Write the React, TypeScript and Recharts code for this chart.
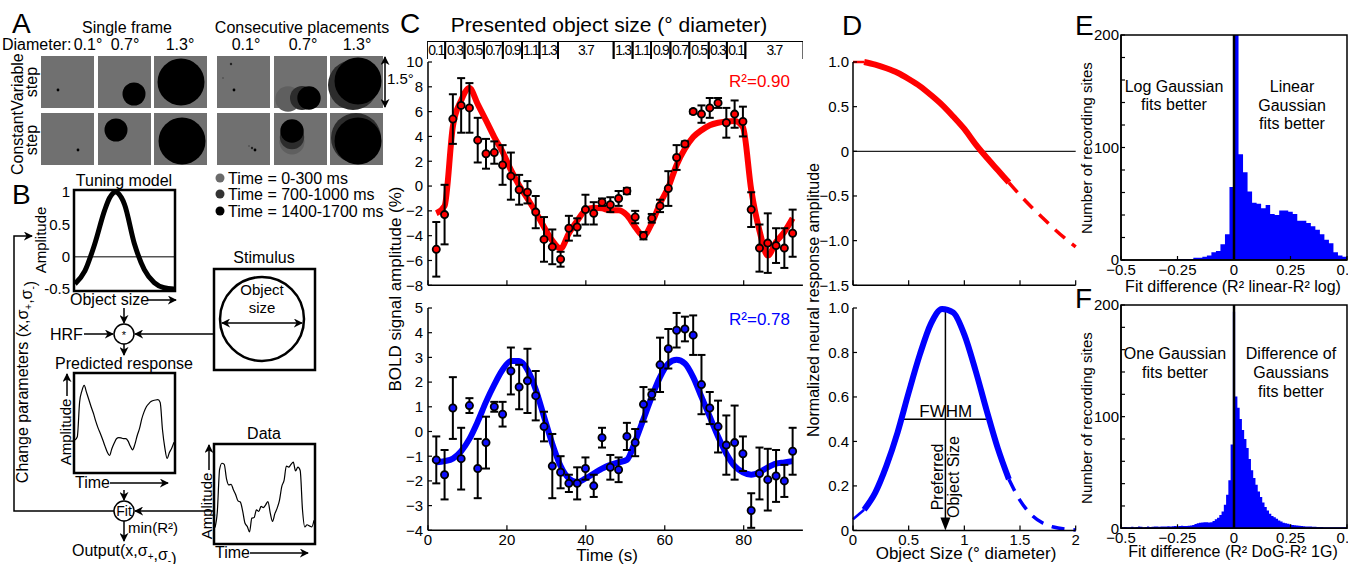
import React from 'react';
import {
  ComposedChart, LineChart, BarChart, Bar, Line, Scatter, ErrorBar, Area, XAxis, YAxis,
  ReferenceLine, ReferenceArea, ReferenceDot,
} from 'recharts';

const FONT = '"Liberation Sans", Arial, Helvetica, sans-serif';

// C: BOLD time courses, one sample per TR (2.1 s)
const times = [2.1, 4.2, 6.3, 8.4, 10.5, 12.6, 14.7, 16.8, 18.9, 21.0, 23.1, 25.2, 27.3, 29.4, 31.5, 33.6, 35.7, 37.8, 39.9, 42.0, 44.1, 46.2, 48.3, 50.4, 52.5, 54.6, 56.7, 58.8, 60.9, 63.0, 65.1, 67.2, 69.3, 71.4, 73.5, 75.6, 77.7, 79.8, 81.9, 84.0, 86.1, 88.2, 90.3, 92.4];
const redMean = [-5.1, -2.3, 5.4, 6.5, 6.3, 3.7, 2.6, 2.7, 1.7, 0.8, -0.3, -0.5, -2.1, -4.3, -4.9, -5.9, -3.4, -3.3, -1.9, -2.2, -1.3, -1.5, -1.0, -0.4, -2.5, -4.0, -2.6, -1.6, -0.2, 2.3, 3.4, 6.0, 5.8, 6.3, 6.7, 5.1, 5.8, 5.2, -1.9, -5.0, -4.6, -4.8, -5.0, -3.8];
const redErr = [2.2, 2.4, 2.0, 2.2, 2.0, 1.8, 1.2, 0.9, 1.6, 1.9, 1.2, 0.9, 1.3, 1.8, 1.4, 0.6, 1.0, 0.7, 1.2, 0.9, 0.3, 0.6, 0.6, 0.25, 0.5, 0.3, 0.35, 0.5, 1.4, 1.0, 0.2, 0.15, 0.7, 0.8, 0.4, 1.2, 1.1, 1.2, 1.4, 1.9, 2.4, 1.4, 1.6, 1.9];
const redFit = [-2.2, -1.6, 4.8, 6.9, 7.9, 6.6, 5.3, 3.95, 2.75, 1.3, 0.05, -1.0, -2.1, -3.3, -4.4, -5.05, -3.8, -2.8, -1.95, -1.75, -1.8, -1.95, -1.95, -2.35, -3.3, -4.0, -3.0, -1.4, -0.1, 1.7, 3.0, 3.95, 4.5, 4.9, 5.1, 5.2, 5.25, 4.75, -0.3, -3.6, -5.6, -4.5, -3.7, -2.6];
const blueMean = [-1.15, -1.75, 0.95, -1.1, 1.05, -1.5, -0.45, 1.0, 0.7, 2.45, 1.8, 2.05, 1.45, 0.2, -1.4, -1.65, -2.1, -2.1, -1.5, -2.2, -0.25, -1.45, -1.55, -0.2, -0.45, 1.1, 1.5, 2.7, 3.35, 4.1, 4.15, 3.9, 1.9, 0.95, 0.2, -0.55, -0.45, -0.9, -3.2, -1.7, -1.95, -1.8, -2.0, -0.8];
const blueErr = [0.95, 1.0, 1.25, 1.25, 0.3, 1.2, 1.05, 0.2, 0.5, 0.95, 0.9, 1.3, 1.0, 0.6, 1.3, 0.65, 0.35, 0.65, 0.45, 0.45, 0.4, 0.5, 0.5, 0.55, 0.55, 0.7, 0.2, 1.1, 0.8, 0.7, 0.5, 0.8, 1.2, 0.65, 1.05, 1.2, 1.5, 0.7, 0.7, 1.05, 1.25, 1.05, 0.65, 0.95];
const blueFit = [-1.25, -1.2, -1.1, -0.8, -0.3, 0.4, 1.2, 1.9, 2.5, 2.85, 2.85, 2.5, 1.7, 0.6, -0.5, -1.4, -1.9, -2.05, -1.9, -1.7, -1.5, -1.35, -1.25, -1.15, -0.4, 0.5, 1.4, 2.2, 2.75, 2.9, 2.75, 2.2, 1.4, 0.6, -0.2, -0.9, -1.4, -1.65, -1.75, -1.65, -1.45, -1.3, -1.25, -1.2];

// C: presented object size per block (block edges in s)
const blockEdges = [-0.4, 4.2, 9.1, 14, 18.8, 23.7, 28.1, 32.8, 46.9, 51.7, 56.4, 61.3, 66.1, 71, 75.6, 80.3, 95];
const blockSizes = ['0.1', '0.3', '0.5', '0.7', '0.9', '1.1', '1.3', '3.7', '1.3', '1.1', '0.9', '0.7', '0.5', '0.3', '0.1', '3.7'];

// D: fitted tuning functions
const sizeGrid = [0, 0.1, 0.2, 0.3, 0.4, 0.5, 0.6, 0.7, 0.8, 0.9, 1.0, 1.1, 1.2, 1.3, 1.4, 1.5, 1.6, 1.7, 1.8, 1.9, 2.0];
const redTuning = [1.0, 1.0, 0.97, 0.93, 0.88, 0.81, 0.73, 0.63, 0.52, 0.39, 0.25, 0.08, -0.07, -0.21, -0.35, -0.49, -0.62, -0.74, -0.86, -0.97, -1.07];
const blueTuning = [0.05, 0.093, 0.17, 0.29, 0.44, 0.62, 0.79, 0.93, 0.996, 0.98, 0.88, 0.72, 0.54, 0.37, 0.23, 0.135, 0.071, 0.034, 0.015, 0.006, 0.002];
const testedMin = 0.1;
const testedMax = 1.4;
const prefSize = 0.83;
const fwhmLo = 0.43;
const fwhmHi = 1.23;

// E, F: histograms of fit differences
const eStart = -0.5;
const eWidth = 0.02;
const eCounts = [0, 0, 0, 0, 0, 0, 0, 0, 0, 0, 0, 0, 1, 1, 1, 1, 2, 2, 3, 4, 7, 8, 14, 23, 65, 230, 94, 78, 61, 51, 50, 46, 49, 41, 40, 44, 44, 43, 41, 35, 35, 33, 30, 27, 23, 18, 15, 7, 4, 3];
const fStart = -0.505;
const fWidth = 0.01;
const fCounts = [
  1, 1, 1.2, 1, 1, 1.3, 1, 1.2, 1.5, 1.3, 1, 1.2, 1.5, 1.2, 1.3, 1.5, 1.5, 1.3, 1.5, 1.5,
  1.5, 1.8, 1.5, 1.8, 2, 1.8, 2, 2.2, 2, 2,
  2.2, 2.5, 3, 3.8, 4.5, 5, 5.3, 5.5, 5.5, 5.3,
  5.5, 6.5, 8, 9.5, 12, 15, 21, 30, 43, 75,
  194,
  118, 108, 98, 88, 80, 72, 62, 52, 45, 39,
  33, 28, 23, 19, 16, 13, 11, 10, 8.5, 7,
  6, 5, 4.5, 4, 3.5, 3, 2.8, 2.5, 2.2, 2,
  1.8, 1.6, 1.5, 1.5, 1.3, 1.3, 1.2, 1.2, 1.2, 1, 1, 1, 1, 1, 1, 1, 1, 1, 1, 1,
];

// B: schematic tuning model
const tuneX = [0, 0.1, 0.2, 0.3, 0.35, 0.41, 0.47, 0.5, 0.6, 0.7, 0.8, 0.9, 1.0];
const tuneY = [-0.42, -0.22, 0.2, 0.72, 0.91, 1.0, 0.91, 0.81, 0.2, -0.2, -0.4, -0.48, -0.5];

const cRed = times.map((t, i) => ({ t, y: redMean[i], e: redErr[i], fit: redFit[i] }));
const cBlue = times.map((t, i) => ({ t, y: blueMean[i], e: blueErr[i], fit: blueFit[i] }));
// one stacked row: each block's duration
const blockRow = [Object.fromEntries(blockSizes.map((_, i) => [`b${i}`, blockEdges[i + 1] - blockEdges[i]]))];
const blockSpan = blockEdges[blockEdges.length - 1] - blockEdges[0];
const splitTuning = (vals: number[]) => sizeGrid.map((x, i) => ({
  x,
  thin: x <= testedMin ? vals[i] : null,
  solid: x >= testedMin && x <= testedMax ? vals[i] : null,
  dash: x >= testedMax ? vals[i] : null,
}));
const dRed = splitTuning(redTuning);
const dBlue = splitTuning(blueTuning);
const histRows = (start: number, w: number, counts: number[]) => [
  ...counts.map((n, i) => ({ x: start + i * w, n })),
  { x: start + counts.length * w, n: counts[counts.length - 1] },
];
const eRows = histRows(eStart, eWidth, eCounts);
const fRows = histRows(fStart, fWidth, fCounts);
const tuneRows = tuneX.map((x, i) => ({ x, y: tuneY[i] }));

type Rect = { x: number; y: number; w: number; h: number };
const frame = (r: Rect, l: number, rt: number, t: number, b: number) => ({
  style: { position: 'absolute' as const, left: r.x - l, top: r.y - t },
  width: r.w + l + rt,
  height: r.h + t + b,
  margin: { top: t, right: rt, bottom: 0, left: 0 },
  yw: l,
  xh: b,
});

const cTopR = { x: 428.3, y: 61.7, w: 374.9, h: 223.3 };
const cBotR = { x: 428.3, y: 307.7, w: 374.9, h: 222.3 };
const blockR = { x: 426.7, y: 40.7, w: 376.4, h: 18.6 };
const dTopR = { x: 853.3, y: 61.7, w: 222.7, h: 223.3 };
const dBotR = { x: 853.3, y: 308.3, w: 222.7, h: 222.4 };
const eR = { x: 1121, y: 35, w: 226, h: 225 };
const fR = { x: 1121, y: 305, w: 226, h: 223.3 };
const tuneR = { x: 75, y: 192, w: 99, h: 97 };
const predR = { x: 75, y: 374, w: 99, h: 98 };
const dataR = { x: 215, y: 445, w: 99, h: 98 };

const minus = (v: number, d = 0) => (v < 0 ? '\u2212' : '') + Math.abs(v).toFixed(d);

// inward tick marks with labels outside the axis
const inTick = (side: 'left' | 'bottom', gap: number, len: number, size: number, fmt: (v: number) => string) =>
  (props: any) => {
    const { x, y, payload } = props;
    const label = fmt(payload.value);
    if (side === 'left') {
      const ax = x + gap;
      return (
        <g>
          {len > 0 && <line x1={ax} y1={y} x2={ax + len} y2={y} stroke="#000" strokeWidth={1.2} />}
          <text x={x} y={y + size * 0.36} textAnchor="end" fontSize={size} fill="#000">{label}</text>
        </g>
      );
    }
    const ay = y - gap;
    return (
      <g>
        {len > 0 && <line x1={x} y1={ay} x2={x} y2={ay - len} stroke="#000" strokeWidth={1.2} />}
        <text x={x} y={y + size * 0.72} textAnchor="middle" fontSize={size} fill="#000">{label}</text>
      </g>
    );
  };

const axisLine = { stroke: '#000', strokeWidth: 1.5 };

const Txt = ({ x, y, s = 16, a = 'start', r = false, fill = '#000', children }: any) => (
  <text x={x} y={y} fontSize={s} textAnchor={a} fill={fill} transform={r ? `rotate(-90 ${x} ${y})` : undefined}>
    {children}
  </text>
);

const Sub = ({ c }: { c: string }) => (
  <>
    <tspan fontSize={10} dy={4}>{c}</tspan>
    <tspan dy={-4}>{''}</tspan>
  </>
);

const redDot = (p: any) => <circle cx={p.cx} cy={p.cy} r={3.6} fill="#ff0000" stroke="#000" strokeWidth={1.8} />;
const blueDot = (p: any) => <circle cx={p.cx} cy={p.cy} r={3.6} fill="#1010ff" stroke="#000" strokeWidth={1.8} />;

function TimeCourse({ rect, rows, color, dot, yDomain, yTicks, showX }: any) {
  const f = frame(rect, 48, 8, 12, showX ? 22 : 10);
  return (
    <div style={f.style}>
      <ComposedChart width={f.width} height={f.height} margin={f.margin} data={rows}>
        <XAxis dataKey="t" type="number" domain={[0, 95]} ticks={[0, 20, 40, 60, 80]} interval={0} height={f.xh}
          axisLine={axisLine} tickLine={false} tickSize={0} tickMargin={4}
          tick={inTick('bottom', 4, 5, 15, (v) => (showX ? String(v) : ''))} />
        <YAxis type="number" domain={yDomain} ticks={yTicks} interval={0} width={f.yw}
          axisLine={axisLine} tickLine={false} tickSize={0} tickMargin={5}
          tick={inTick('left', 5, 4, 15, (v) => minus(v))} />
        <Line dataKey="fit" type="monotone" stroke={color} strokeWidth={6} dot={false} isAnimationActive={false} />
        <Scatter dataKey="y" shape={dot} isAnimationActive={false}>
          <ErrorBar dataKey="e" direction="y" width={4} stroke="#000" strokeWidth={2} />
        </Scatter>
      </ComposedChart>
    </div>
  );
}

function Tuning({ rect, rows, color, yDomain, yTicks, fmt, showX, children }: any) {
  const f = frame(rect, 40, 12, 12, showX ? 22 : 10);
  return (
    <div style={f.style}>
      <ComposedChart width={f.width} height={f.height} margin={f.margin} data={rows}>
        <XAxis dataKey="x" type="number" domain={[0, 2]} ticks={[0, 0.5, 1, 1.5, 2]} interval={0} height={f.xh}
          axisLine={axisLine} tickLine={false} tickSize={0} tickMargin={4}
          tick={inTick('bottom', 4, 5, 15, (v) => (showX ? String(v) : ''))} />
        <YAxis type="number" domain={yDomain} ticks={yTicks} interval={0} width={f.yw}
          axisLine={axisLine} tickLine={false} tickSize={0} tickMargin={4}
          tick={inTick('left', 4, 4, 15, fmt)} />
        {children}
        <Line dataKey="thin" type="monotone" stroke={color} strokeWidth={2.5} dot={false} isAnimationActive={false} />
        <Line dataKey="solid" type="monotone" stroke={color} strokeWidth={6} dot={false} isAnimationActive={false} />
        <Line dataKey="dash" type="monotone" stroke={color} strokeWidth={3.5} strokeDasharray="13 9" dot={false} isAnimationActive={false} />
      </ComposedChart>
    </div>
  );
}

function Histogram({ rect, rows }: any) {
  const f = frame(rect, 40, 12, 10, 22);
  return (
    <div style={f.style}>
      <ComposedChart width={f.width} height={f.height} margin={f.margin} data={rows}>
        <XAxis dataKey="x" type="number" domain={[-0.5, 0.5]} allowDataOverflow ticks={[-0.5, -0.25, 0, 0.25, 0.5]} interval={0}
          height={f.xh} axisLine={axisLine} tickLine={false} tickSize={0} tickMargin={4}
          tick={inTick('bottom', 4, 4, 15, (v) => minus(v, v === 0 ? 0 : Math.abs(v) === 0.5 ? 1 : 2))} />
        <YAxis type="number" domain={[0, 200]} allowDataOverflow ticks={[0, 20, 40, 60, 80, 100, 120, 140, 160, 180, 200]}
          interval={0} width={f.yw} axisLine={axisLine} tickLine={false} tickSize={0} tickMargin={2}
          tick={inTick('left', 2, 4, 15, (v) => (v % 100 === 0 ? String(v) : ''))} />
        <Area dataKey="n" type="stepAfter" fill="#0000ff" fillOpacity={1} stroke="none" isAnimationActive={false} />
        <ReferenceLine x={0} stroke="#000" strokeWidth={2.5} />
        <ReferenceArea x1={-0.5} x2={0.5} y1={0} y2={200} fill="none" stroke="#000" strokeWidth={1.5} />
      </ComposedChart>
    </div>
  );
}

function MiniTrace({ rect, rows, dataKey, xKey, yDomain, stroke, width, xDomain }: any) {
  const f = frame(rect, 0, 0, 0, 0);
  return (
    <div style={f.style}>
      <LineChart width={f.width} height={f.height} margin={{ top: 0, right: 0, bottom: 0, left: 0 }} data={rows}>
        <XAxis dataKey={xKey} type="number" domain={xDomain} hide />
        <YAxis type="number" domain={yDomain} hide />
        <Line dataKey={dataKey} type="monotone" stroke={stroke} strokeWidth={width} dot={false} isAnimationActive={false} />
      </LineChart>
    </div>
  );
}

const dBx = (v: number) => dBotR.x + (v / 2) * dBotR.w;
const dBy = (v: number) => dBotR.y + (1 - v) * dBotR.h;

export default function App() {
  const bf = frame(blockR, 0, 0, 0, 0);
  const tf = frame(tuneR, 36, 0, 12, 10);
  return (
    <div style={{ position: 'absolute', left: 0, top: 0, width: 1348, height: 564, overflow: 'hidden', background: '#fff', fontFamily: FONT }}>
      {/* C: object size blocks */}
      <div style={bf.style}>
        <BarChart layout="vertical" width={bf.width} height={bf.height} margin={bf.margin} data={blockRow}
          barCategoryGap={0} barGap={0}>
          <XAxis type="number" domain={[0, blockSpan]} allowDataOverflow hide />
          <YAxis type="category" hide />
          {blockSizes.map((s, i) => (
            <Bar key={i} dataKey={`b${i}`} stackId="blk" fill="#fff" fillOpacity={0} stroke="#000" strokeWidth={1.8}
              isAnimationActive={false}
              label={(p: any) => (
                <text x={p.x + p.width / 2} y={p.y + p.height / 2 + 5} textAnchor="middle" fontSize={14}
                  letterSpacing={-1.3} fill="#000">{s}</text>
              )} />
          ))}
        </BarChart>
      </div>

      <TimeCourse rect={cTopR} rows={cRed} color="#ff0000" dot={redDot} yDomain={[-8, 10]}
        yTicks={[-8, -6, -4, -2, 0, 2, 4, 6, 8, 10]} showX={false} />
      <TimeCourse rect={cBotR} rows={cBlue} color="#0000ff" dot={blueDot} yDomain={[-4, 5]}
        yTicks={[-4, -3, -2, -1, 0, 1, 2, 3, 4, 5]} showX />

      <Tuning rect={dTopR} rows={dRed} color="#ff0000" yDomain={[-1.5, 1]} yTicks={[-1.5, -1, -0.5, 0, 0.5, 1]}
        fmt={(v: number) => (v === 0 ? '0' : minus(v, 1))} showX={false}>
        <ReferenceLine y={0} stroke="#222" strokeWidth={1.2} />
      </Tuning>
      <Tuning rect={dBotR} rows={dBlue} color="#0000ff" yDomain={[0, 1]} yTicks={[0, 0.2, 0.4, 0.6, 0.8, 1]}
        fmt={(v: number) => (v === 0 ? '0' : v.toFixed(1))} showX>
        <ReferenceLine segment={[{ x: fwhmLo, y: 0.5 }, { x: fwhmHi, y: 0.5 }]} stroke="#000" strokeWidth={1.5} />
        <ReferenceLine segment={[{ x: fwhmLo, y: 0.48 }, { x: fwhmLo, y: 0.52 }]} stroke="#000" strokeWidth={1.5} />
        <ReferenceLine segment={[{ x: fwhmHi, y: 0.48 }, { x: fwhmHi, y: 0.52 }]} stroke="#000" strokeWidth={1.5} />
        <ReferenceLine segment={[{ x: prefSize, y: 1 }, { x: prefSize, y: 0.04 }]} stroke="#000" strokeWidth={1.5} />
        <ReferenceDot x={prefSize} y={0} r={0}
          shape={(p: any) => <path d={`M${p.cx - 5},${p.cy - 13} L${p.cx + 5},${p.cy - 13} L${p.cx},${p.cy} Z`} fill="#000" />} />
      </Tuning>

      <Histogram rect={eR} rows={eRows} />
      <Histogram rect={fR} rows={fRows} />

      {/* B: model curves */}
      <div style={tf.style}>
        <LineChart width={tf.width} height={tf.height} margin={{ ...tf.margin, bottom: 10 }} data={tuneRows}>
          <XAxis dataKey="x" type="number" domain={[0, 1]} hide />
          <YAxis type="number" domain={[-0.5, 1]} ticks={[-0.5, 0, 0.5, 1]} interval={0} width={tf.yw}
            axisLine={false} tickLine={false} tickSize={0} tickMargin={5}
            tick={inTick('left', 5, 0, 15, (v) => String(v))} />
          <ReferenceLine y={0} stroke="#555" strokeWidth={1.5} />
          <Line dataKey="y" type="monotone" stroke="#000" strokeWidth={5} dot={false} isAnimationActive={false} />
        </LineChart>
      </div>
      <MiniTrace rect={predR} rows={cRed} xKey="t" dataKey="fit" xDomain={['dataMin', 'dataMax']} yDomain={[-8.1, 10]} stroke="#000" width={1.2} />
      <MiniTrace rect={dataR} rows={cRed} xKey="t" dataKey="y" xDomain={['dataMin', 'dataMax']} yDomain={[-7.9, 9.8]} stroke="#000" width={1.2} />

      <svg width={1348} height={564} style={{ position: 'absolute', left: 0, top: 0, pointerEvents: 'none' }}>
        <defs>
          <marker id="ah" viewBox="0 0 10 10" refX="9" refY="5" markerWidth="9" markerHeight="9"
            markerUnits="userSpaceOnUse" orient="auto-start-reverse">
            <path d="M0,0 L10,5 L0,10 L3,5 Z" fill="#000" />
          </marker>
        </defs>

        {/* panel letters */}
        <Txt x={12} y={33} s={28}>A</Txt>
        <Txt x={12} y={204} s={28}>B</Txt>
        <Txt x={400} y={33} s={28}>C</Txt>
        <Txt x={842} y={35} s={28}>D</Txt>
        <Txt x={1075} y={35} s={28}>E</Txt>
        <Txt x={1075} y={308} s={28}>F</Txt>

        {/* A: stimulus frames */}
        <Txt x={127} y={33} a="middle">Single frame</Txt>
        <Txt x={302} y={33} a="middle">Consecutive placements</Txt>
        <Txt x={2} y={50}>Diameter:</Txt>
        <Txt x={88} y={50} a="middle">0.1°</Txt>
        <Txt x={125} y={50} a="middle">0.7°</Txt>
        <Txt x={180} y={50} a="middle">1.3°</Txt>
        <Txt x={246} y={50} a="middle">0.1°</Txt>
        <Txt x={303} y={50} a="middle">0.7°</Txt>
        <Txt x={357} y={50} a="middle">1.3°</Txt>
        <Txt x={23} y={82} r a="middle">Variable</Txt>
        <Txt x={37} y={82} r a="middle">step</Txt>
        <Txt x={23} y={143} r a="middle">Constant</Txt>
        <Txt x={37} y={140} r a="middle">step</Txt>
        <g fill="#707070">
          {[41, 98, 154, 217, 274, 330].map((x) => (
            <React.Fragment key={x}>
              <rect x={x} y={56} width={53} height={52} />
              <rect x={x} y={113} width={53} height={52} />
            </React.Fragment>
          ))}
        </g>
        <circle cx={58} cy={90} r={1.4} fill="#000" />
        <circle cx={134} cy={94} r={11.5} fill="#000" />
        <circle cx={181} cy={82} r={23.5} fill="#000" />
        <circle cx={223} cy={78} r={1} fill="#555" />
        <circle cx={231} cy={64} r={1.2} fill="#222" />
        <circle cx={234} cy={90} r={1.4} fill="#000" />
        <circle cx={288} cy={99} r={12.7} fill="#5f5f5f" />
        <circle cx={302} cy={98} r={12} fill="#2c2c2c" />
        <circle cx={309} cy={98} r={11.7} fill="#000" />
        <circle cx={353} cy={85} r={25} fill="#2c2c2c" />
        <circle cx={358} cy={81} r={23.5} fill="#000" />
        <circle cx={78} cy={150} r={1.4} fill="#000" />
        <circle cx={116} cy={130} r={11.5} fill="#000" />
        <circle cx={182} cy={141} r={23.5} fill="#000" />
        <circle cx={249} cy={146} r={1} fill="#555" />
        <circle cx={252} cy={148} r={1.2} fill="#222" />
        <circle cx={255} cy={150} r={1.4} fill="#000" />
        <circle cx={292} cy={142} r={12.5} fill="#5f5f5f" />
        <circle cx={292} cy={137} r={12.2} fill="#2c2c2c" />
        <circle cx={292} cy={131} r={11.7} fill="#000" />
        <circle cx={356} cy={138} r={25} fill="#2c2c2c" />
        <circle cx={358} cy={141} r={23.5} fill="#000" />
        <line x1={385} y1={57} x2={385} y2={107} stroke="#000" strokeWidth={1.5} markerStart="url(#ah)" markerEnd="url(#ah)" />
        <Txt x={387} y={84} s={15}>1.5°</Txt>
        <circle cx={220} cy={178} r={4.5} fill="#6b6b6b" />
        <circle cx={220} cy={194} r={4.5} fill="#333" />
        <circle cx={220} cy={211} r={4.5} fill="#000" />
        <Txt x={228} y={184}>Time = 0-300 ms</Txt>
        <Txt x={228} y={200}>Time = 700-1000 ms</Txt>
        <Txt x={228} y={217}>Time = 1400-1700 ms</Txt>

        {/* B: fitting procedure */}
        <g fill="none" stroke="#000" strokeWidth={2.5}>
          <rect x={74} y={190} width={101} height={101} />
          <rect x={74} y={373} width={101} height={100} />
          <rect x={214} y={269} width={101} height={101} />
          <rect x={214} y={444} width={101} height={100} />
          <circle cx={262} cy={319} r={42} />
        </g>
        <g fill="#fff" stroke="#000" strokeWidth={1.5}>
          <circle cx={124} cy={334} r={10} />
          <circle cx={124} cy={511} r={10} />
        </g>
        <g stroke="#000" strokeWidth={1.5} fill="none">
          <line x1={148} y1={300} x2={176} y2={300} markerEnd="url(#ah)" />
          <line x1={124} y1={308} x2={124} y2={323} markerEnd="url(#ah)" />
          <line x1={84} y1={334} x2={113} y2={334} markerEnd="url(#ah)" />
          <line x1={213} y1={334} x2={135} y2={334} markerEnd="url(#ah)" />
          <line x1={124} y1={344} x2={124} y2={355} markerEnd="url(#ah)" />
          <line x1={67} y1={396} x2={67} y2={374} markerEnd="url(#ah)" />
          <line x1={110} y1={483} x2={168} y2={483} markerEnd="url(#ah)" />
          <line x1={124} y1={490} x2={124} y2={500} markerEnd="url(#ah)" />
          <line x1={124} y1={521} x2={124} y2={541} markerEnd="url(#ah)" />
          <line x1={213} y1={511} x2={135} y2={511} markerEnd="url(#ah)" />
          <polyline points="114,511 14,511 14,236 32,236" markerEnd="url(#ah)" />
          <line x1={222} y1={323} x2={302} y2={323} markerStart="url(#ah)" markerEnd="url(#ah)" />
          <line x1={209} y1={470} x2={209} y2={445} markerEnd="url(#ah)" />
          <line x1={250} y1={553} x2={308} y2={553} markerEnd="url(#ah)" />
        </g>
        <Txt x={124} y={186} a="middle">Tuning model</Txt>
        <Txt x={46} y={240} s={15} r a="middle">Amplitude</Txt>
        <Txt x={70} y={305}>Object size</Txt>
        <Txt x={124} y={339} s={11} a="middle">*</Txt>
        <Txt x={50} y={340}>HRF</Txt>
        <Txt x={124} y={369} a="middle">Predicted response</Txt>
        <Txt x={71} y={432} s={15} r a="middle">Amplitude</Txt>
        <Txt x={75} y={488}>Time</Txt>
        <Txt x={124} y={516} s={14} a="middle">Fit</Txt>
        <Txt x={128} y={533} s={15}>min(R²)</Txt>
        <text x={72} y={556} fontSize={16} fill="#000">Output(x,σ<Sub c="+" />,σ<Sub c="-" />)</text>
        <text x={28} y={382} fontSize={16} fill="#000" textAnchor="middle" transform="rotate(-90 28 382)">
          Change parameters (x,σ<Sub c="+" />,σ<Sub c="-" />)
        </text>
        <Txt x={264} y={263} a="middle">Stimulus</Txt>
        <Txt x={262} y={295} s={15} a="middle">Object</Txt>
        <Txt x={262} y={313} s={15} a="middle">size</Txt>
        <Txt x={264} y={439} a="middle">Data</Txt>
        <Txt x={212} y={506} s={15} r a="middle">Amplitude</Txt>
        <Txt x={215} y={558}>Time</Txt>

        {/* C */}
        <Txt x={609} y={32} s={21} a="middle">Presented object size (° diameter)</Txt>
        <Txt x={401} y={289} s={17} r a="middle">BOLD signal amplitude (%)</Txt>
        <Txt x={607} y={561} s={17} a="middle">Time (s)</Txt>
        <Txt x={790} y={87} s={17} a="end" fill="#ff0000">R²=0.90</Txt>
        <Txt x={790} y={325} s={17} a="end" fill="#0000ff">R²=0.78</Txt>

        {/* D */}
        <Txt x={819} y={300} s={16} r a="middle">Normalized neural response amplitude</Txt>
        <Txt x={966} y={559} s={17} a="middle">Object Size (° diameter)</Txt>
        <Txt x={dBx(prefSize)} y={dBy(0.5) - 3} s={17} a="middle">FWHM</Txt>
        <Txt x={dBx(prefSize) - 3} y={477} s={16} r a="middle">Preferred</Txt>
        <Txt x={dBx(prefSize) + 13.5} y={477} s={16} r a="middle">Object Size</Txt>

        {/* E */}
        <Txt x={1092} y={148} s={15} r a="middle">Number of recording sites</Txt>
        <Txt x={1233} y={292} a="middle">Fit difference (R² linear-R² log)</Txt>
        <Txt x={1174} y={92} a="middle">Log Gaussian</Txt>
        <Txt x={1174} y={110} a="middle">fits better</Txt>
        <Txt x={1292} y={92} a="middle">Linear</Txt>
        <Txt x={1292} y={111} a="middle">Gaussian</Txt>
        <Txt x={1292} y={129} a="middle">fits better</Txt>

        {/* F */}
        <Txt x={1092} y={418} s={15} r a="middle">Number of recording sites</Txt>
        <Txt x={1233} y={557} a="middle">Fit difference (R² DoG-R² 1G)</Txt>
        <Txt x={1175} y={359} a="middle">One Gaussian</Txt>
        <Txt x={1175} y={378} a="middle">fits better</Txt>
        <Txt x={1291} y={359} a="middle">Difference of</Txt>
        <Txt x={1291} y={378} a="middle">Gaussians</Txt>
        <Txt x={1291} y={397} a="middle">fits better</Txt>
      </svg>
    </div>
  );
}
